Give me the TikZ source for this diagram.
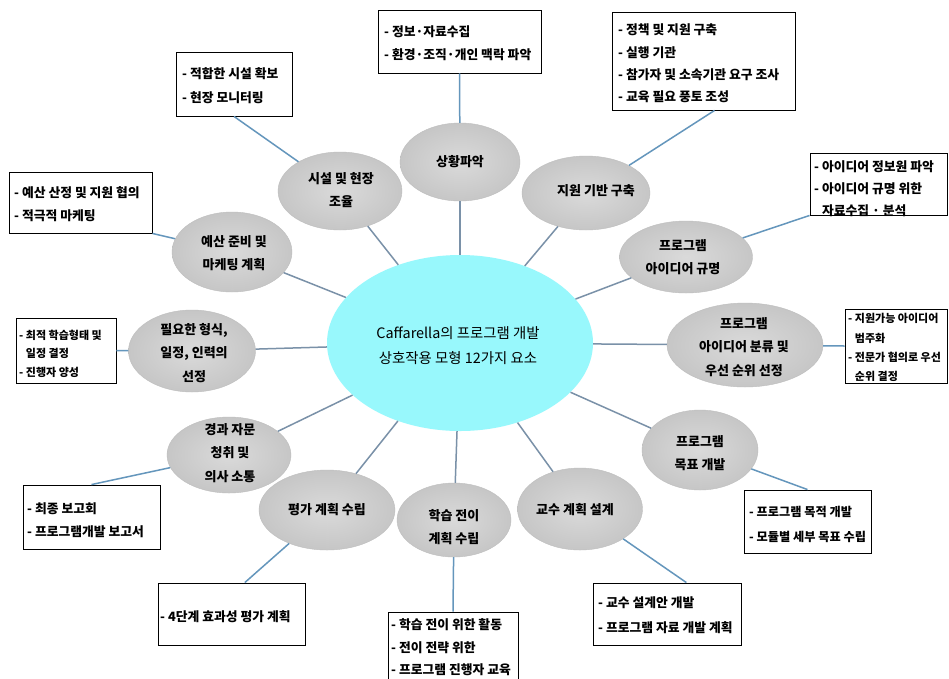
\documentclass[tikz,border=0pt]{standalone}
\usepackage{fontspec}
\setmainfont{Noto Sans CJK KR}
\usetikzlibrary{shapes.geometric,calc}
\definecolor{hubfill}{RGB}{152,248,252}
\definecolor{elin}{RGB}{218,218,218}
\definecolor{elout}{RGB}{198,198,198}
\definecolor{eldraw}{RGB}{190,190,190}
\definecolor{boxline}{RGB}{100,150,188}
\definecolor{hubline}{RGB}{122,145,168}
\tikzset{
  hub/.style={ellipse, fill=hubfill, draw=none, inner sep=0pt},
  topic/.style={ellipse, inner color=elin, outer color=elout, draw=eldraw, line width=0.4pt, inner sep=0pt},
  etext/.style={align=center, inner sep=0pt, font=\bfseries\fontsize{13}{23.5}\selectfont},
  ibox/.style={rectangle, draw=black, line width=0.9pt, fill=white, inner sep=0pt},
  btext/.style={anchor=west, inner sep=0pt, font=\bfseries\fontsize{12.8}{14}\selectfont},
  stext/.style={anchor=west, inner sep=0pt, font=\bfseries\fontsize{11}{12}\selectfont},
  bconn/.style={draw=boxline, line width=1.5pt},
  hconn/.style={draw=hubline, line width=1.5pt},
}
\newcommand\mkbox[5]{\node[ibox, minimum width={#4-#2}, minimum height={#5-#3}] (#1) at ({(#2+#4)/2},{(#3+#5)/2}) {};}
\begin{document}
\begin{tikzpicture}[x=1pt,y=-1pt]
\useasboundingbox (0,0) rectangle (949,678);
\fill[white] (0,0) rectangle (949,678);

% hub
\node[hub, minimum width=266, minimum height=176] (c) at (460,343) {};
\node[align=center, inner sep=0pt, font=\fontsize{14.4}{25}\selectfont] (ct) at (458,346) {Caffarella의 프로그램 개발\\상호작용 모형 12가지 요소};

% topic ellipses
\node[topic, minimum width=120, minimum height=78] (e1) at (460,162) {};
\node[topic, minimum width=128, minimum height=74] (e2) at (586,193) {};
\node[topic, minimum width=124, minimum height=78] (e3) at (340,191) {};
\node[topic, minimum width=120, minimum height=80] (e4) at (232,252) {};
\node[topic, minimum width=127, minimum height=82] (e5) at (192,351) {};
\node[topic, minimum width=124, minimum height=76] (e6) at (229,455) {};
\node[topic, minimum width=136, minimum height=80] (e7) at (327,510) {};
\node[topic, minimum width=114, minimum height=74] (e8) at (454,520) {};
\node[topic, minimum width=125, minimum height=82] (e9) at (580,509) {};
\node[topic, minimum width=116, minimum height=80] (e10) at (700,450) {};
\node[topic, minimum width=156, minimum height=84] (e11) at (745,345) {};
\node[topic, minimum width=133, minimum height=72] (e12) at (686,257) {};

\node[etext] (t1) at (460,162) {상황파악};
\node[etext] (t2) at (596,191) {지원 기반 구축};
\node[etext] (t3) at (341,190) {시설 및 현장\\조율};
\node[etext] (t4) at (234,253) {예산 준비 및\\마케팅 계획};
\node[etext] (t5) at (194,353) {필요한 형식,\\일정, 인력의\\선정};
\node[etext] (t6) at (230,453) {경과 자문\\청취 및\\의사 소통};
\node[etext] (t7) at (327,510) {평가 계획 수립};
\node[etext] (t8) at (454,527) {학습 전이\\계획 수립};
\node[etext] (t9) at (575,510) {교수 계획 설계};
\node[etext] (t10) at (700,453) {프로그램\\목표 개발};
\node[etext] (t11) at (744,347) {프로그램\\아이디어 분류 및\\우선 순위 선정};
\node[etext] (t12) at (683,257) {프로그램\\아이디어 규명};

% hub connectors
\foreach \e in {e1,e2,e3,e4,e5,e6,e7,e8,e9,e10,e11,e12}{\draw[hconn] (c) -- (\e);}

% info boxes
\mkbox{bA}{378}{10}{541}{73}
\mkbox{bB}{176}{52}{292}{116}
\mkbox{bC}{612}{12}{795}{110}
\mkbox{bD}{810}{153}{947}{215}
\mkbox{bE}{9}{172}{152}{233}
\mkbox{bF}{16}{318}{116}{383}
\mkbox{bG}{845}{309}{947}{383}
\mkbox{bH}{23}{485}{160}{549}
\mkbox{bI}{158}{583}{305}{645}
\mkbox{bJ}{388}{612}{518}{700}
\mkbox{bK}{593}{583}{741}{645}
\mkbox{bL}{744}{490}{871}{553}

% box connectors
\draw[bconn] (bA.south) -- (e1);
\draw[bconn] (bB.south) -- (e3);
\draw[bconn] ($(bC.south west)!0.56!(bC.south east)$) -- (e2);
\draw[bconn] (bD.south west) -- (e12);
\draw[bconn] (bE.south east) -- (e4);
\draw[bconn] (bF.east) -- (e5);
\draw[bconn] (bG.west) -- (e11);
\draw[bconn] (bH.north) -- (e6);
\draw[bconn] ($(bI.north west)!0.59!(bI.north east)$) -- (e7);
\draw[bconn] (bJ.north) -- (e8);
\draw[bconn] ($(bK.north west)!0.63!(bK.north east)$) -- (e9);
\draw[bconn] (bL.north) -- (e10);

% box texts
\node[btext] (a1) at (384,32) {- 정보·자료수집};
\node[btext] (a2) at (384,55) {- 환경·조직·개인 맥락 파악};
\node[btext] (b1) at (182,74) {- 적합한 시설 확보};
\node[btext] (b2) at (182,98) {- 현장 모니터링};
\node[btext] (c1) at (618,30) {- 정책 및 지원 구축};
\node[btext] (c2) at (618,53) {- 실행 기관};
\node[btext] (c3) at (618,75) {- 참가자 및 소속기관 요구 조사};
\node[btext] (c4) at (618,97) {- 교육 필요 풍토 조성};
\node[btext] (d1) at (814,167) {- 아이디어 정보원 파악};
\node[btext] (d2) at (814,189) {- 아이디어 규명 위한};
\node[btext] (d3) at (814,211) {\phantom{- }자료수집 · 분석};
\node[btext] (x1) at (14,193) {- 예산 산정 및 지원 협의};
\node[btext] (x2) at (14,216) {- 적극적 마케팅};
\node[stext] (f1) at (19,335) {- 최적 학습형태 및};
\node[stext] (f2) at (19,353) {\phantom{- }일정 결정};
\node[stext] (f3) at (19,372) {- 진행자 양성};
\node[stext] (g1) at (848,318) {- 지원가능 아이디어};
\node[stext] (g2) at (848,338) {\phantom{- }범주화};
\node[stext] (g3) at (848,357) {- 전문가 협의로 우선};
\node[stext] (g4) at (848,376) {\phantom{- }순위 결정};
\node[btext] (h1) at (27,509) {- 최종 보고회};
\node[btext] (h2) at (27,532) {- 프로그램개발 보고서};
\node[btext] (i1) at (160,617) {- 4단계 효과성 평가 계획};
\node[btext] (j1) at (391,625) {- 학습 전이 위한 활동};
\node[btext] (j2) at (391,648) {- 전이 전략 위한};
\node[btext] (j3) at (391,670) {- 프로그램 진행자 교육};
\node[btext] (k1) at (598,603) {- 교수 설계안 개발};
\node[btext] (k2) at (598,628) {- 프로그램 자료 개발 계획};
\node[btext, font=\bfseries\fontsize{12.2}{14}\selectfont] (l1) at (749,512) {- 프로그램 목적 개발};
\node[btext, font=\bfseries\fontsize{12.2}{14}\selectfont] (l2) at (749,537) {- 모듈별 세부 목표 수립};
\end{tikzpicture}
\end{document}
